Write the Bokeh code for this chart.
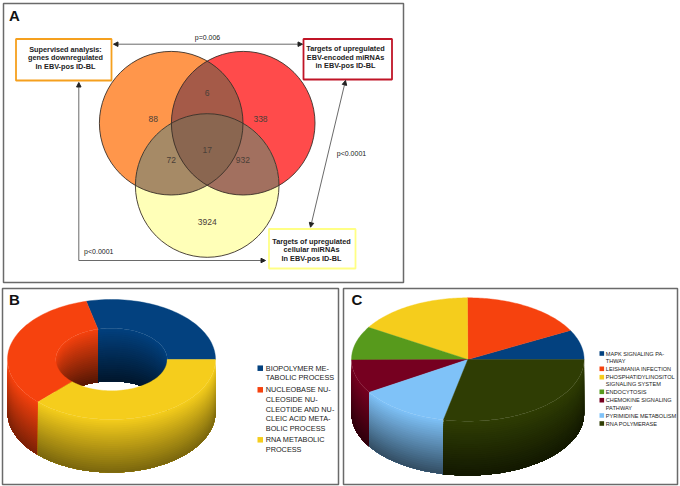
import numpy as np
from bokeh.plotting import figure
from bokeh.models import Arrow, NormalHead, Range1d
from bokeh.core.properties import value
from bokeh.embed import file_html
from bokeh.resources import INLINE

# ---------- data ----------
venn_counts = ["88", "6", "338", "72", "17", "932", "3924"]
venn_titles = [
    ["Supervised analysis:", "genes downregulated", "In EBV-pos ID-BL"],
    ["Targets of upregulated", "EBV-encoded miRNAs", "in EBV-pos ID-BL"],
    ["Targets of upregulated", "cellular miRNAs", "In EBV-pos ID-BL"],
]
p_values = ["p=0.006", "p<0.0001", "p<0.0001"]

b_shares = [28.9, 33.6, 37.5]
b_colors = ["#03417f", "#f6420e", "#f5cd1c"]
b_legend = [["BIOPOLYMER ME-", "TABOLIC PROCESS"],
            ["NUCLEOBASE NU-", "CLEOSIDE NU-", "CLEOTIDE AND NU-", "CLEIC ACID META-", "BOLIC PROCESS"],
            ["RNA METABOLIC", "PROCESS"]]

c_shares = [7.8, 17.2, 16.2, 8.8, 8.8, 12.7, 28.3]
c_colors = ["#03417f", "#f6420e", "#f5cd1c", "#579a1c", "#760020", "#7fc2f8", "#2f3d04"]
c_legend = [["MAPK SIGNALING PA-", "THWAY"], ["LEISHMANIA INFECTION"],
            ["PHOSPHATIDYLINOSITOL", "SIGNALING SYSTEM"], ["ENDOCYTOSIS"],
            ["CHEMOKINE SIGNALING", "PATHWAY"], ["PYRIMIDINE METABOLISM"], ["RNA POLYMERASE"]]

# ---------- canvas: one unit is one pixel of the picture ----------
p = figure(width=680, height=486, output_backend="svg", toolbar_location=None,
           x_range=Range1d(0, 680), y_range=Range1d(486, 0), min_border=0,
           outline_line_color=None)
p.axis.visible = False
p.grid.visible = False
FONT = value("Liberation Sans")


def label(x, y, txt, size, bold=False, color="#222222", align="center"):
    p.text(x=[x], y=[y], text=[txt], text_font=FONT, text_font_size=f"{size}px",
           text_font_style="bold" if bold else "normal", text_color=color,
           text_align=align, text_baseline="middle")


def frame(x0, y0, x1, y1, color="#6a6a6a", w=1.5, fill=None):
    p.quad(left=[x0], right=[x1], top=[y0], bottom=[y1], fill_color=fill,
           line_color=color, line_width=w)


# ---------- panel frames ----------
frame(3, 3, 403, 282)
frame(2, 288, 338, 484)
frame(343, 288, 677, 484)
label(14, 14.5, "A", 15, True, "#111111")
label(14, 299, "B", 15, True, "#111111")
label(356.5, 299, "C", 15, True, "#111111")

# ---------- panel A: Venn ----------
R = 71.8
circles = [(170.7, 122.7), (242.7, 122.7), (206.7, 185.0)]
fills = ["#ff964b", "#ff4b4b", "#ffffb8"]


def disc_intersection(idx):
    pts = []
    t = np.linspace(0, 2 * np.pi, 720, endpoint=False)
    for i in idx:
        cx, cy = circles[i]
        xs, ys = cx + R * np.cos(t), cy + R * np.sin(t)
        keep = np.ones_like(t, dtype=bool)
        for j in idx:
            if j != i:
                keep &= np.hypot(xs - circles[j][0], ys - circles[j][1]) <= R + 1e-9
        pts.append(np.c_[xs[keep], ys[keep]])
    pts = np.vstack(pts)
    c = pts.mean(axis=0)
    pts = pts[np.argsort(np.arctan2(pts[:, 1] - c[1], pts[:, 0] - c[0]))]
    return pts[:, 0].tolist(), pts[:, 1].tolist()


for (cx, cy), f in zip(circles, fills):
    p.circle(x=[cx], y=[cy], radius=R, fill_color=f, line_color=None)
for idx, col in [((0, 1), "#a55a48"), ((0, 2), "#a68a66"), ((1, 2), "#a2705f"), ((0, 1, 2), "#8a6650")]:
    xs, ys = disc_intersection(idx)
    p.patch(x=xs, y=ys, fill_color=col, line_color=None)
for cx, cy in circles:
    p.circle(x=[cx], y=[cy], radius=R, fill_color=None, line_color="#3a3028", line_width=0.9)

venn_pos = [(152.7, 118), (206.7, 92), (260, 118), (170.7, 159), (206.7, 149), (242.3, 159), (206.7, 221)]
for (x, y), t in zip(venn_pos, venn_counts):
    label(x, y, t, 8.5, False, "#4a4038")

boxes = [(15.5, 38.5, 111, 80, "#f5a01e"), (303, 38.5, 391.5, 79, "#c01426"), (268.5, 228.5, 355, 268, "#ffff85")]
for x0, y0, x1, y1, c in boxes:
    frame(x0, y0, x1, y1, c, 1.8, "#ffffff")

title_pos = [(65, (49, 57.3, 66)), (345, (48, 56.7, 65.3)), (311, (240.7, 249.3, 258.3))]
for (x, ys), lines in zip(title_pos, venn_titles):
    for y, t in zip(ys, lines):
        label(x, y, t, 7.3, True, "#222222")

label(207, 37.3, p_values[0], 7)
label(351, 153, p_values[1], 7)
label(98.3, 251, p_values[2], 7)


def arrow(x0, y0, x1, y1, both=True):
    head = NormalHead(size=4.5, fill_color="#222222", line_color="#222222")
    tail = NormalHead(size=4.5, fill_color="#222222", line_color="#222222") if both else None
    p.add_layout(Arrow(end=head, start=tail, x_start=x0, y_start=y0, x_end=x1, y_end=y1,
                       line_color="#444444", line_width=0.8))


arrow(113, 43.7, 302, 43.7)
arrow(345, 80, 310, 226.7)
arrow(78.3, 260, 78.3, 82, both=False)
arrow(78.3, 260, 265, 260, both=False)


# ---------- pies ----------
def shade(col, f):
    r, g, b = int(col[1:3], 16), int(col[3:5], 16), int(col[5:7], 16)
    return "#%02x%02x%02x" % (int(r * f), int(g * f), int(b * f))


def arc(cx, cy, rx, ry, a0, a1, n=60):
    a = np.radians(np.linspace(a0, a1, n))
    return cx + rx * np.cos(a), cy - ry * np.sin(a)


def bands(cx, cy, rx, ry, depth, a0, a1, col, f0, f1, N=26):
    # painter's stack: each band runs to the wall's foot, the next one overlays it
    xs, ys, cs = [], [], []
    ax, ay = arc(cx, cy, rx, ry, a0, a1)
    for k in range(N):
        d0 = depth * k / N
        xs.append(np.r_[ax, ax[::-1]].tolist())
        ys.append(np.r_[ay + d0, ay[::-1] + depth].tolist())
        cs.append(shade(col, f0 + (f1 - f0) * (k + .5) / N))
    p.patches(xs=xs, ys=ys, fill_color=cs, line_color=None)


def pie3d(cx, cy, rx, ry, depth, shares, colors, hole=None, wall=(1.0, 0.42)):
    angs = np.cumsum([0] + list(shares)) / sum(shares) * 360
    if hole:
        hx, hy = hole
        hxs, hys = arc(cx, cy, hx, hy, 0, 360, 180)
        p.patch(x=hxs, y=hys, fill_color="#ffffff", line_color=None)
        for a0, a1, c in zip(angs[:-1], angs[1:], colors):   # far inner wall
            lo, hi = max(a0, 0), min(a1, 180)
            if hi > lo:
                bands(cx, cy, hx, hy, depth, lo, hi, c, 1.0, 0.35)
    for a0, a1, c in zip(angs[:-1], angs[1:], colors):       # outer wall
        lo, hi = max(a0, 180), min(a1, 360)
        if hi > lo:
            bands(cx, cy, rx, ry, depth, lo, hi, c, wall[0], wall[1])
    for a0, a1, c in zip(angs[:-1], angs[1:], colors):       # top face
        ox, oy = arc(cx, cy, rx, ry, a0, a1)
        if hole:
            ix, iy = arc(cx, cy, hole[0], hole[1], a1, a0)
        else:
            ix, iy = np.array([cx]), np.array([cy])
        p.patch(x=np.r_[ox, ix].tolist(), y=np.r_[oy, iy].tolist(), fill_color=c,
                line_color=c, line_width=0.4)


pie3d(111, 359, 104, 60, 53, b_shares, b_colors, hole=(55.7, 31.3), wall=(1.0, 0.5))
pie3d(467.3, 359, 116.3, 61.7, 54.3, c_shares, c_colors, wall=(1.0, 0.4))


def legend(sqx, sqs, tx, groups, colors, ys, size):
    i = 0
    for g, c in zip(groups, colors):
        y0 = ys[i]
        p.quad(left=[sqx], right=[sqx + sqs], top=[y0 - sqs / 2], bottom=[y0 + sqs / 2],
               fill_color=c, line_color=None)
        for t in g:
            label(tx, ys[i], t, size, False, "#1a1a1a", "left")
            i += 1


legend(257, 5.5, 265.3, b_legend, b_colors,
       [367.7, 377.3, 389.3, 399, 408.7, 418.3, 428, 439.3, 449], 7.3)
legend(599, 4.6, 605.3, c_legend, c_colors,
       [353, 360.7, 368.3, 376.7, 383.7, 391.3, 399.7, 407, 415, 423], 5.6)

open("out.html", "w").write(file_html(p, INLINE))
